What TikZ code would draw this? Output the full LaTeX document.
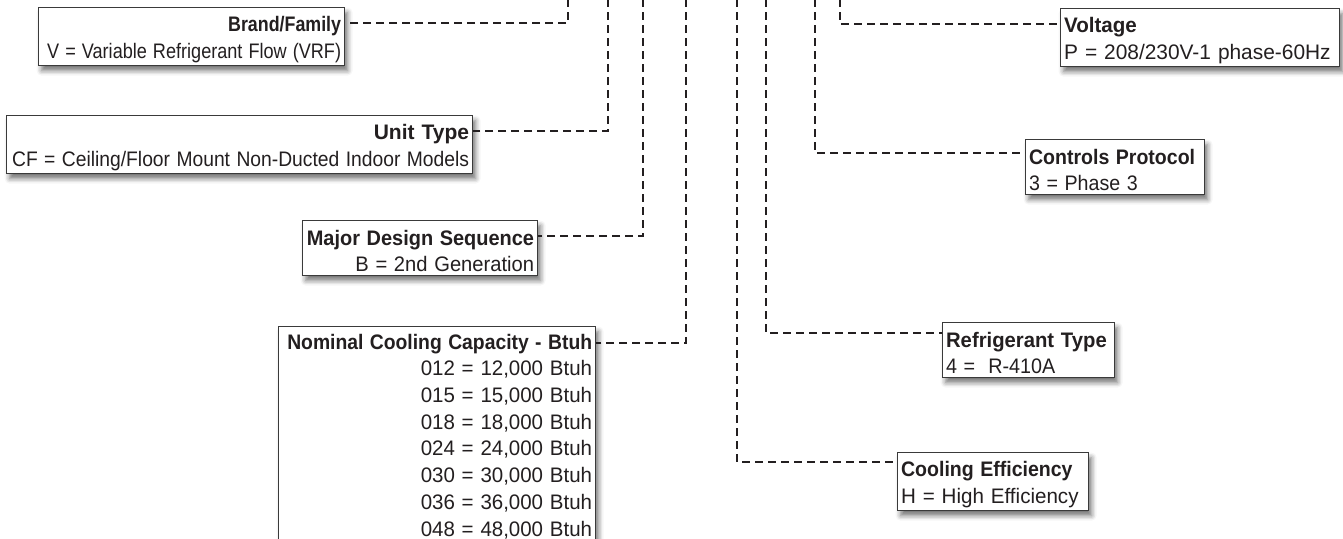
\documentclass[tikz,border=0pt]{standalone}
\usepackage{fontspec}
\setmainfont{Liberation Sans}
\usetikzlibrary{shadows.blur}
\definecolor{ink}{HTML}{231F20}
\definecolor{edge}{HTML}{3A3A3A}
\tikzset{
  keybox/.style={draw=edge, line width=1.2pt, fill=white, text=ink, inner xsep=3.5pt, inner ysep=3pt,
    font=\fontsize{21}{26.7}\selectfont, anchor=north west,
    blur shadow={shadow xshift=3pt, shadow yshift=-5pt, shadow blur radius=5pt, shadow opacity=55}},
  lbox/.style={keybox, align=right},
  rbox/.style={keybox, align=left},
  conn/.style={draw=ink, line width=2.2pt, dash pattern=on 8pt off 5pt},
}
% headline (bold) and value line, each squeezed horizontally
\newcommand{\kh}[2][0.93]{\rule{0pt}{21pt}\scalebox{#1}[1]{\textbf{#2}}}
\newcommand{\kv}[2][0.96]{\scalebox{#1}[1]{#2}}
\begin{document}
\begin{tikzpicture}[x=1pt,y=-1pt]
\useasboundingbox (0,0) rectangle (1343,538);
\clip (0,0) rectangle (1343,538);
% boxes
\node[lbox, text width=299pt, minimum height=56pt] (bf) at (38,7) {\kh[0.849]{Brand/Family}\\\kv[0.862]{V = Variable Refrigerant Flow (VRF)}};
\node[lbox, text width=459pt, minimum height=56pt] (ut) at (6,115) {\kh[1.0]{Unit Type}\\\kv[0.918]{CF = Ceiling/Floor Mount Non-Ducted Indoor Models}};
\node[lbox, text width=228pt, minimum height=55pt] (mds) at (302,220) {\kh[0.95]{Major Design Sequence}\\\kv{B = 2nd Generation}};
\node[lbox, text width=310pt, inner ysep=1.5pt] (ncc) at (278,326) {\kh[0.92]{Nominal Cooling Capacity - Btuh}\\\kv[0.975]{012 = 12,000 Btuh}\\\kv[0.975]{015 = 15,000 Btuh}\\\kv[0.975]{018 = 18,000 Btuh}\\\kv[0.975]{024 = 24,000 Btuh}\\\kv[0.975]{030 = 30,000 Btuh}\\\kv[0.975]{036 = 36,000 Btuh}\\\kv[0.975]{048 = 48,000 Btuh}};
\node[rbox, text width=272pt, minimum height=55pt] (vo) at (1060,8) {\kh[0.98]{Voltage}\\\kv[0.995]{P = 208/230V-1 phase-60Hz}};
\node[rbox, text width=172pt, minimum height=55pt] (cp) at (1025,139) {\kh{Controls Protocol}\\\kv[0.935]{3 = Phase 3}};
\node[rbox, text width=165pt, minimum height=55pt] (rt) at (942,322) {\kh[0.965]{Refrigerant Type}\\\kv[0.94]{4 =\ \ R-410A}};
\node[rbox, text width=184pt, minimum height=55pt] (ce) at (897,452) {\kh{Cooling Efficiency}\\\kv[0.98]{H = High Efficiency}};
% connector top ends
\coordinate (t1) at (568,-1);
\coordinate (t2) at (608,-1);
\coordinate (t3) at (643,-1);
\coordinate (t4) at (686,-1);
\coordinate (t5) at (737,-1);
\coordinate (t6) at (766,-1);
\coordinate (t7) at (815,-1);
\coordinate (t8) at (840,-1);
% connectors
\draw[conn] (t1) |- ([yshift=-16pt]bf.north east);
\draw[conn] (t2) |- ([yshift=-16pt]ut.north east);
\draw[conn] (t3) |- ([yshift=-16pt]mds.north east);
\draw[conn] (t4) |- ([yshift=-17pt]ncc.north east);
\draw[conn] (t5) |- ([yshift=-10pt]ce.north west);
\draw[conn] (t6) |- ([yshift=-11pt]rt.north west);
\draw[conn] (t7) |- ([yshift=-14pt]cp.north west);
\draw[conn] (t8) |- ([yshift=-16pt]vo.north west);
\end{tikzpicture}
\end{document}
